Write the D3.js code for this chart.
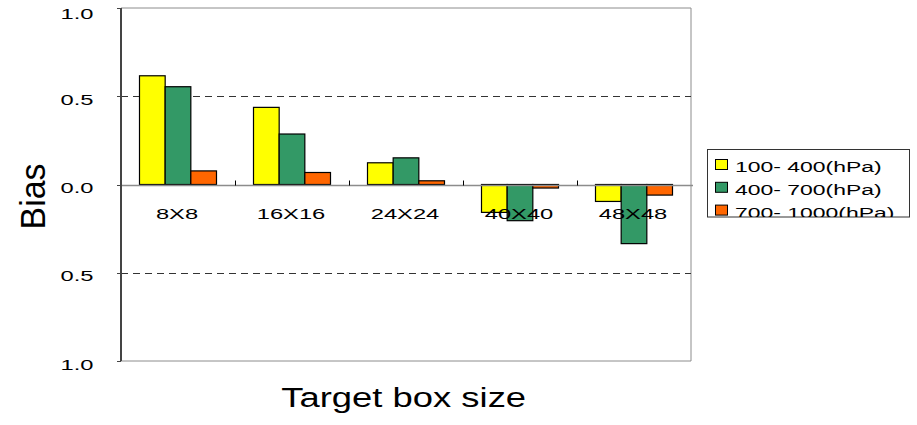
<!DOCTYPE html>
<html>
<head>
<meta charset="utf-8">
<script src="https://cdn.jsdelivr.net/npm/d3@7"></script>
<style>
  html, body { margin: 0; padding: 0; background: #fff; }
  svg { display: block; }
  text { font-family: "Liberation Sans", Arial, sans-serif; fill: #000; }
</style>
</head>
<body>
<svg id="chart" width="917" height="425"></svg>
<script>
// ---- data ----
const categories = ["8X8", "16X16", "24X24", "40X40", "48X48"];
const seriesNames = ["100- 400(hPa)", "400- 700(hPa)", "700- 1000(hPa)"];
const series1 = [0.616, 0.437, 0.123, -0.158, -0.096];
const series2 = [0.554, 0.286, 0.151, -0.205, -0.335];
const series3 = [0.077, 0.068, 0.021, -0.020, -0.060];
const seriesColors = ["#FFFF00", "#339966", "#FF6600"];
const yTickValues = [1.0, 0.5, 0.0, -0.5, -1.0];
const yTickLabels = ["1.0", "0.5", "0.0", "0.5", "1.0"];
const yTitle = "Bias";
const xTitle = "Target box size";

const allSeries = [series1, series2, series3];

// ---- layout ----
const svg = d3.select("#chart");
const plot = { left: 121, right: 691, top: 8, bottom: 361 };
const SX = 1.53; // horizontal stretch of the small text

const x = d3.scaleBand().domain(categories).range([plot.left, plot.right]).paddingInner(0).paddingOuter(0);
const xs = d3.scaleBand().domain(d3.range(allSeries.length))
  .range([18.5, x.bandwidth() - 18.5]).padding(0);
const y = d3.scaleLinear().domain([-1, 1]).range([plot.bottom, plot.top]);

const defs = svg.append("defs");
defs.append("clipPath").attr("id", "ylabclip")
  .append("rect").attr("x", 60.5).attr("y", 0).attr("width", 60).attr("height", 425);
defs.append("clipPath").attr("id", "legclip")
  .append("rect").attr("x", 707).attr("y", 149).attr("width", 203).attr("height", 68);

function stretchedText(g, tx, ty, txt, size, sx, anchor) {
  return g.append("text")
    .attr("transform", `translate(${tx},${ty}) scale(${sx},1)`)
    .attr("text-anchor", anchor)
    .style("font-size", size + "px")
    .text(txt);
}

// plot frame (top, right, bottom)
svg.append("path")
  .attr("d", `M${plot.left},${plot.top}H${plot.right}V${plot.bottom}H${plot.left}`)
  .attr("fill", "none").attr("stroke", "#8c8c8c").attr("stroke-width", 1);

// dashed gridlines at +-0.5
yTickValues.filter(v => Math.abs(v) === 0.5).forEach(v => {
  svg.append("line")
    .attr("x1", plot.left).attr("x2", plot.right)
    .attr("y1", Math.round(y(v)) + 0.5).attr("y2", Math.round(y(v)) + 0.5)
    .attr("stroke", "#333").attr("stroke-width", 1)
    .attr("stroke-dasharray", "7,5");
});

// bars
const gBars = svg.append("g");
allSeries.forEach((vals, si) => {
  gBars.selectAll(null).data(vals).enter().append("rect")
    .attr("x", (d, i) => x(categories[i]) + xs(si))
    .attr("width", xs.bandwidth())
    .attr("y", d => Math.min(y(d), y(0)))
    .attr("height", d => Math.abs(y(d) - y(0)))
    .attr("fill", seriesColors[si])
    .attr("stroke", "#000").attr("stroke-width", 1.2);
});

// zero line (category axis)
const y0 = Math.round(y(0)) + 0.5;
svg.append("line").attr("x1", plot.left).attr("x2", plot.right + 2)
  .attr("y1", y0).attr("y2", y0).attr("stroke", "#8c8c8c").attr("stroke-width", 1.3);
// category tick marks at band boundaries
categories.slice(1).forEach(c => {
  svg.append("line").attr("x1", x(c) + 0.5).attr("x2", x(c) + 0.5)
    .attr("y1", y0 - 5).attr("y2", y0).attr("stroke", "#000").attr("stroke-width", 1);
});

// category labels
categories.forEach(c => {
  stretchedText(svg, x(c) + x.bandwidth() / 2 - 1, y0 + 33, c, 15.5, SX, "middle");
});

// value axis
svg.append("line").attr("x1", plot.left).attr("x2", plot.left)
  .attr("y1", plot.top).attr("y2", plot.bottom).attr("stroke", "#444").attr("stroke-width", 2);
yTickValues.forEach(v => {
  svg.append("line").attr("x1", plot.left - 4).attr("x2", plot.left)
    .attr("y1", Math.round(y(v)) + 0.5).attr("y2", Math.round(y(v)) + 0.5)
    .attr("stroke", "#444").attr("stroke-width", 1);
});
const gYLab = svg.append("g").attr("clip-path", "url(#ylabclip)");
yTickValues.forEach((v, i) => {
  const ty = Math.max(y(v), 10) + 8.5;
  stretchedText(gYLab, 93.5, ty, yTickLabels[i], 15.5, SX, "end");
});

// axis titles
svg.append("text")
  .attr("transform", `translate(45,196.5) rotate(-90) scale(0.94,1)`)
  .attr("text-anchor", "middle")
  .style("font-size", "36px")
  .text(yTitle);
stretchedText(svg, 403.7, 406.5, xTitle, 28, 1.3, "middle");

// legend
const leg = svg.append("g");
leg.append("rect").attr("x", 707.5).attr("y", 149.5).attr("width", 202).attr("height", 67.5)
  .attr("fill", "#fff").attr("stroke", "#333").attr("stroke-width", 1);
const legInner = leg.append("g").attr("clip-path", "url(#legclip)");
seriesNames.forEach((name, i) => {
  const rowY = 159.5 + i * 22.8;
  legInner.append("rect").attr("x", 715.5).attr("y", rowY).attr("width", 12).attr("height", 10)
    .attr("fill", seriesColors[i]).attr("stroke", "#000").attr("stroke-width", 1);
  stretchedText(legInner, 735, rowY + 12.4 + i * 0.4, name, 15, 1.53, "start");
});
</script>
</body>
</html>
